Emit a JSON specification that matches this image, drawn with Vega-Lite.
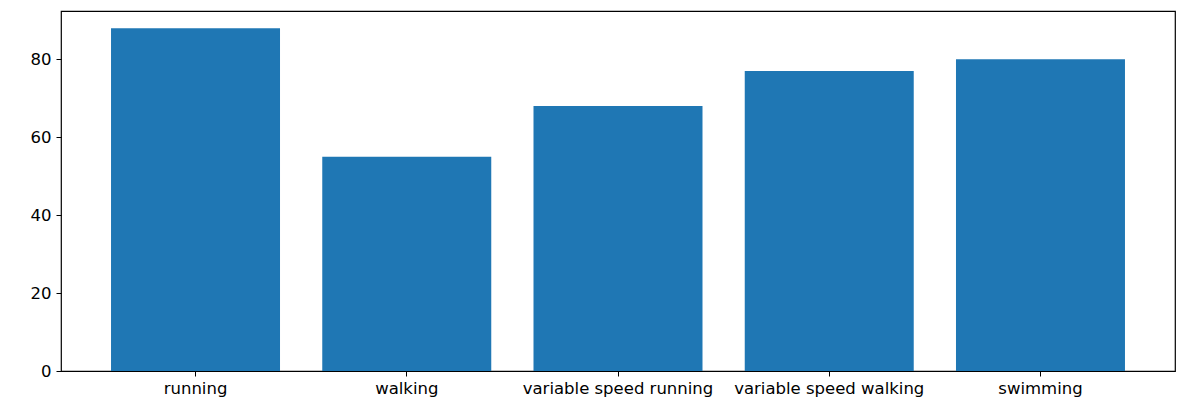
{
  "$schema": "https://vega.github.io/schema/vega-lite/v6.json",
  "autosize": "none",
  "width": 1114,
  "height": 360,
  "padding": {"left": 61, "top": 11, "right": 25, "bottom": 38},
  "background": "white",
  "data": {"values": [
    {"activity": "running", "value": 88},
    {"activity": "walking", "value": 55},
    {"activity": "variable speed running", "value": 68},
    {"activity": "variable speed walking", "value": 77},
    {"activity": "swimming", "value": 80}
  ]},
  "mark": {"type": "bar", "color": "#1f77b4"},
  "encoding": {
    "x": {"field": "activity", "type": "nominal", "sort": null,
      "scale": {"paddingInner": 0.2, "paddingOuter": 0.2368},
      "axis": {"title": null, "labelAngle": 0, "labelFontSize": 16.5, "labelFont": "DejaVu Sans", "labelColor": "#000", "labelPadding": 4, "labelLimit": 400,
        "tickColor": "#000", "tickSize": 5, "domain": false, "grid": false}},
    "y": {"field": "value", "type": "quantitative",
      "scale": {"domain": [0, 92.4], "nice": false},
      "axis": {"title": null, "values": [0, 20, 40, 60, 80], "labelFontSize": 16.5, "labelFont": "DejaVu Sans", "labelColor": "#000", "labelPadding": 5,
        "tickColor": "#000", "tickSize": 5, "domain": false, "grid": false}}
  },
  "config": {"view": {"stroke": "#000", "strokeWidth": 1.2}}
}
